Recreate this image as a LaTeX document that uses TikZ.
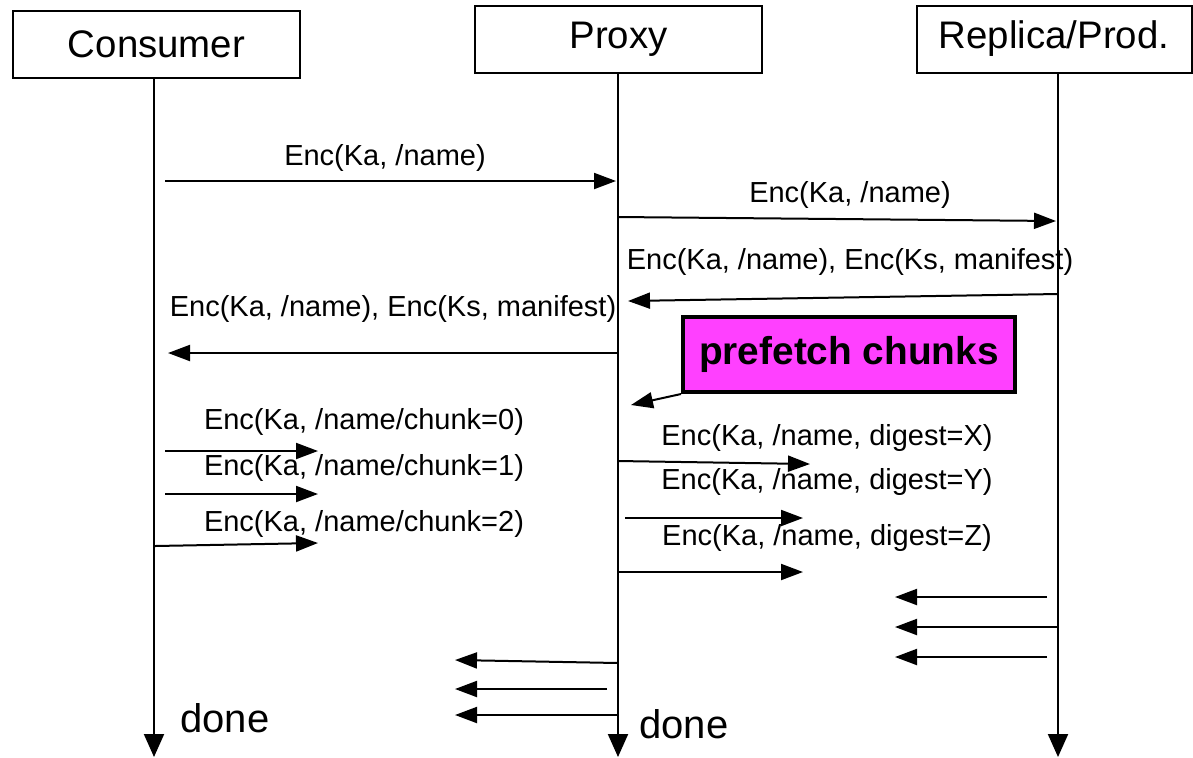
\documentclass[tikz,border=0pt]{standalone}
\usepackage{fontspec}
\setmainfont{Liberation Sans}
\usetikzlibrary{arrows.meta}
\definecolor{prefetchpink}{RGB}{255,64,255}
\begin{document}
\begin{tikzpicture}[x=0.5pt,y=-0.5pt,
  party/.style={draw,line width=1pt,minimum height=33.5pt,inner sep=0pt,font=\fontsize{19.2}{22}\selectfont},
  life/.style={line width=1pt,-{Triangle[length=11.5pt,width=10pt]}},
  msg/.style={line width=1pt,-{Triangle[length=11pt,width=8pt]}},
  lbl/.style={inner sep=0pt,font=\fontsize{14.5}{17}\selectfont},
  donelbl/.style={inner sep=0pt,font=\fontsize{20}{24}\selectfont}]
\useasboundingbox (0,0) rectangle (1193,757);
%
\node[party,minimum width=143.5pt](cons) at (156.5,44.5) {Consumer};
\node[party,minimum width=143.5pt](prox) at (618.5,39) {Proxy};
\node[party,minimum width=137.5pt](repl) at (1054,39) {Replica/Prod.};
\coordinate (consEnd) at (154,757);
\coordinate (proxEnd) at (618,757);
\coordinate (replEnd) at (1058,757);
\draw[life](consEnd |- cons.south)--(consEnd);
\draw[life](proxEnd |- prox.south)--(proxEnd);
\draw[life](replEnd |- repl.south)--(replEnd);
%
\path (165,181) coordinate (a1) (616,181) coordinate (b1)
      (618,217) coordinate (a2) (1056,221) coordinate (b2)
      (1058,294) coordinate (a3) (628,301) coordinate (b3)
      (618,353) coordinate (a4) (168,353) coordinate (b4);
\draw[msg](a1)--(b1);
\draw[msg](a2)--(b2);
\draw[msg](a3)--(b3);
\draw[msg](a4)--(b4);
\node[lbl](l1) at (385,158) {Enc(Ka, /name)};
\node[lbl](l2) at (850,195) {Enc(Ka, /name)};
\node[lbl](l3) at (850,262) {Enc(Ka, /name), Enc(Ks, manifest)};
\node[lbl](l4) at (393,309) {Enc(Ka, /name), Enc(Ks, manifest)};
%
\node[draw,line width=2pt,fill=prefetchpink,minimum width=166pt,minimum height=37.5pt,inner sep=0pt,
  font=\bfseries\fontsize{19.4}{22}\selectfont](pf) at (849,354.5) {prefetch chunks};
\coordinate (pfTip) at (631,405);
\draw[msg](pf.south west)--(pfTip);
%
\path (165,451) coordinate (c0) (318,451) coordinate (d0)
      (165,494) coordinate (c1) (318,494) coordinate (d1)
      (155,546) coordinate (c2) (318,543) coordinate (d2);
\draw[msg](c0)--(d0);
\draw[msg](c1)--(d1);
\draw[msg](c2)--(d2);
\node[lbl](k0) at (364,422) {Enc(Ka, /name/chunk=0)};
\node[lbl](k1) at (364,468) {Enc(Ka, /name/chunk=1)};
\node[lbl](k2) at (364,524) {Enc(Ka, /name/chunk=2)};
%
\path (618,461) coordinate (e0) (810,464) coordinate (f0)
      (625,518) coordinate (e1) (803,518) coordinate (f1)
      (618,572) coordinate (e2) (803,572) coordinate (f2);
\draw[msg](e0)--(f0);
\draw[msg](e1)--(f1);
\draw[msg](e2)--(f2);
\node[lbl](gx) at (827,438) {Enc(Ka, /name, digest=X)};
\node[lbl](gy) at (827,482) {Enc(Ka, /name, digest=Y)};
\node[lbl](gz) at (827,538) {Enc(Ka, /name, digest=Z)};
%
\path (1047,597) coordinate (r0) (895,597) coordinate (s0)
      (1058,627) coordinate (r1) (895,627) coordinate (s1)
      (1047,657) coordinate (r2) (895,657) coordinate (s2);
\draw[msg](r0)--(s0);
\draw[msg](r1)--(s1);
\draw[msg](r2)--(s2);
%
\path (618,663) coordinate (u0) (455,660) coordinate (v0)
      (607,689) coordinate (u1) (455,689) coordinate (v1)
      (618,715) coordinate (u2) (455,715) coordinate (v2);
\draw[msg](u0)--(v0);
\draw[msg](u1)--(v1);
\draw[msg](u2)--(v2);
%
\node[donelbl](consDone) at (225,718) {done};
\node[donelbl](proxDone) at (684,724) {done};
\end{tikzpicture}
\end{document}
